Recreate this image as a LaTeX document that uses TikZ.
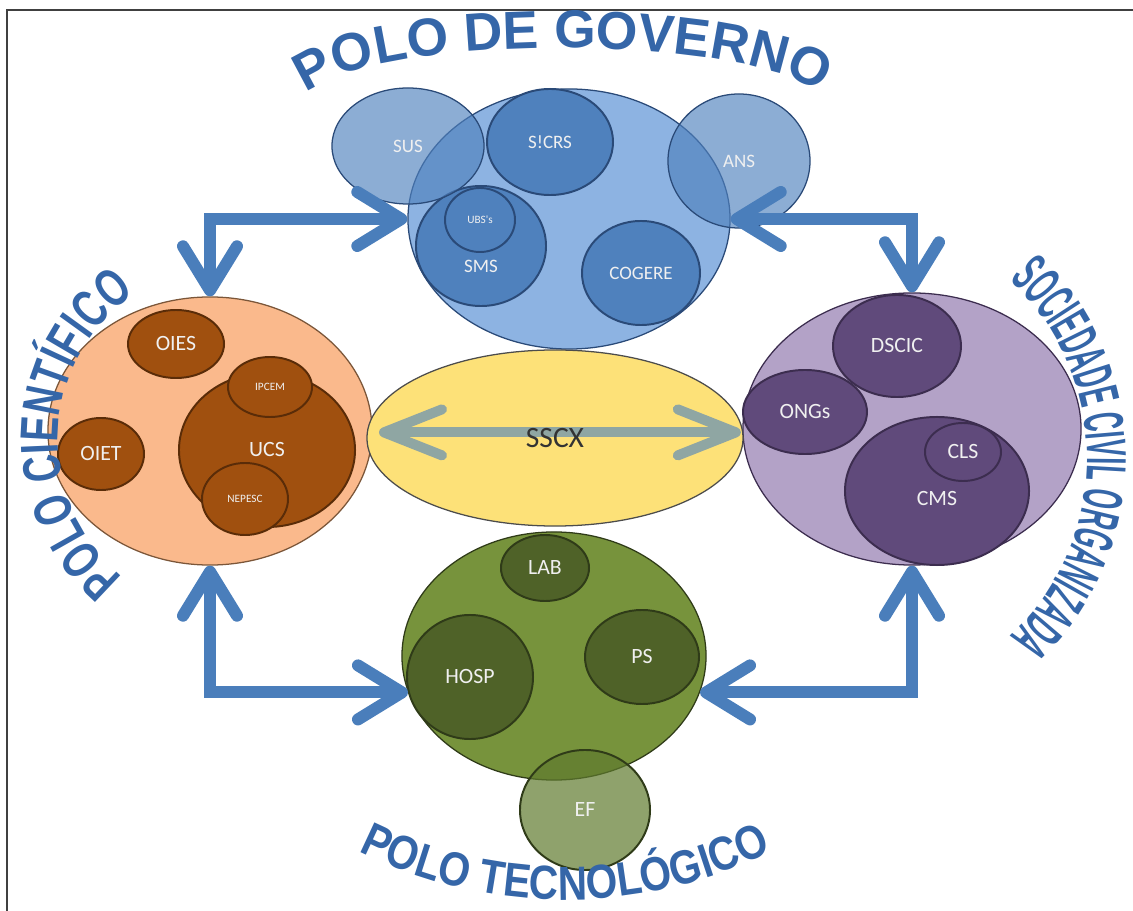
\documentclass[tikz,border=0pt]{standalone}
\usepackage{fontspec}
\usetikzlibrary{shapes.geometric,arrows.meta,decorations.text}
\newfontfamily\unitfont{Carlito}
\newfontfamily\polefont{Liberation Sans}
\newfontfamily\polewide[FakeStretch=0.85]{Liberation Sans}
\newfontfamily\polecond[FakeStretch=0.7]{Liberation Sans}
\newfontfamily\polenarrow[FakeStretch=0.45]{Liberation Sans}

\definecolor{govfill}{HTML}{8DB3E2}
\definecolor{govunit}{HTML}{4F81BD}
\definecolor{govline}{HTML}{2A4A78}
\definecolor{ciefill}{HTML}{FAB98C}
\definecolor{cieunit}{HTML}{A0500F}
\definecolor{cieline}{HTML}{5A2C08}
\definecolor{socfill}{HTML}{B3A2C7}
\definecolor{socunit}{HTML}{604A7B}
\definecolor{socline}{HTML}{3C2D4F}
\definecolor{tecfill}{HTML}{77933C}
\definecolor{tecunit}{HTML}{4F6228}
\definecolor{tecline}{HTML}{2F3B18}
\definecolor{effill}{HTML}{5F7A2E}
\definecolor{sscxfill}{HTML}{FDE178}
\definecolor{linkblue}{HTML}{4A7EBB}
\definecolor{linkgrey}{HTML}{8FA6A3}
\definecolor{titleblue}{HTML}{3566A8}

\tikzset{
  pole/.style={ellipse, draw, line width=0.9pt, inner sep=0pt},
  dims/.style 2 args={minimum width=#1cm, minimum height=#2cm},
  unit/.style={ellipse, draw, line width=1.4pt, inner sep=0pt, text=white!94!black,
    font=\unitfont\fontsize{15.5}{18}\selectfont},
  gtext/.style={text=white!94!black, font=\unitfont\fontsize{13.5}{16}\selectfont},
  gunit/.style={unit, gtext, fill=govunit, draw=govline},
  cunit/.style={unit, fill=cieunit, draw=cieline},
  sunit/.style={unit, fill=socunit, draw=socline},
  tunit/.style={unit, fill=tecunit, draw=tecline},
  tiny tag/.style={font=\unitfont\fontsize{8}{9}\selectfont},
  see through/.style={fill opacity=0.65, text opacity=1},
  link/.style={draw=linkblue, line width=0.3cm,
    >={Straight Barb[round,length=1.1cm,width=1.35cm]}, <->},
  sscxlink/.style={draw=linkgrey, line width=0.25cm,
    >={Straight Barb[round,length=1.45cm,width=1.15cm]}, <->},
  poletitle/.style={decorate, decoration={text along path, text align=center,
    text color=titleblue, text={#1}}}
}

\begin{document}
\begin{tikzpicture}[x=0.025cm, y=-0.025cm]
  \useasboundingbox (0,0) rectangle (1133,911);
  \draw[line width=1.4pt, black!75] (7,911) -- (7,10) -- (1133,10);

  % polo de governo
  \node[pole, fill=govfill, draw=govline, dims={8.05}{6.5}] (gov) at (569,219) {};
  \node[gunit, dims={3.15}{2.65}] (scrs) at (550,142) {S!CRS};
  \node[gunit, dims={3.25}{3.0}, label={[gtext, yshift=-0.5cm]center:SMS}] (sms) at (481,246) {};
  \node[gunit, tiny tag, dims={1.75}{1.6}] (ubs) at (480,220) {UBS's};
  \node[gunit, dims={2.95}{2.6}] (cogere) at (641,273) {COGERE};
  \node[gunit, see through, line width=0.9pt, dims={3.8}{2.9}] (sus) at (408,146) {SUS};
  \node[gunit, see through, line width=0.9pt, dims={3.55}{3.35}] (ans) at (739,161) {ANS};

  % polo cientifico
  \node[pole, fill=ciefill, draw=cieline!80, dims={8.1}{6.7}] (cie) at (210,431) {};
  \node[cunit, dims={2.4}{1.7}] (oies) at (176,344) {OIES};
  \node[cunit, dims={2.15}{1.8}] (oiet) at (101,454) {OIET};
  \node[cunit, dims={4.4}{3.85}] (ucs) at (267,450) {UCS};
  \node[cunit, tiny tag, dims={2.1}{1.5}] (ipcem) at (270,387) {IPCEM};
  \node[cunit, tiny tag, dims={2.15}{1.8}] (nepesc) at (245,499) {NEPESC};

  % sociedade civil
  \node[pole, fill=socfill, draw=socline, dims={8.45}{6.8}] (soc) at (912,429) {};
  \node[sunit, dims={3.2}{2.55}] (dscic) at (897,346) {DSCIC};
  \node[sunit, dims={3.1}{2.1}] (ongs) at (805,412) {ONGs};
  \node[sunit, dims={4.6}{3.7}, label={[text=white!94!black, font=\unitfont\fontsize{15.5}{18}\selectfont, yshift=-0.2cm]center:CMS}] (cms) at (937,491) {};
  \node[sunit, dims={1.9}{1.45}] (cls) at (963,452) {CLS};

  % polo tecnologico
  \node[pole, fill=tecfill, draw=tecline, dims={7.6}{6.2}] (tec) at (554,656) {};
  \node[tunit, dims={2.2}{1.65}] (lab) at (545,568) {LAB};
  \node[tunit, dims={3.15}{3.1}] (hosp) at (470,677) {HOSP};
  \node[tunit, dims={2.85}{2.35}] (ps) at (642,657) {PS};
  \node[tunit, fill=effill, fill opacity=0.7, text opacity=1, dims={3.25}{3.0}] (ef) at (585,810) {EF};

  % centro
  \node[pole, fill=sscxfill, draw=black!70, dims={9.4}{4.4}] (sscx) at (555,438) {};
  \draw[sscxlink, shorten <=9pt, shorten >=2pt] ([yshift=4pt]sscx.west) -- ([yshift=4pt]sscx.east);
  \node[font=\unitfont\fontsize{21}{24}\selectfont, text=black!80] (sscxtext) at (sscx) {SSCX};

  % ligacoes entre os polos
  \draw[link] (gov.west) -| (cie.north);
  \draw[link] (gov.east) -| (soc.north);
  \draw[link] (cie.south) |- (tec.194);
  \draw[link] (soc.south) |- (tec.346);

  % nomes dos polos
  \path[poletitle={|\polefont\bfseries\fontsize{38}{40}\selectfont|POLO DE GOVERNO}]
    ([shift={(176:262 and 58)}]563,106) arc[start angle=176, end angle=364, x radius=262, y radius=58];
  \path[poletitle={|\polecond\bfseries\fontsize{38}{40}\selectfont|POLO CIENTÍFICO}]
    ([shift={(125:177)}]235,440) arc[start angle=125, end angle=240, radius=177];
  \path[poletitle={|\polenarrow\bfseries\fontsize{40}{42}\selectfont|SOCIEDADE CIVIL ORGANIZADA}]
    ([shift={(-48:245)}]842,458) arc[start angle=-48, end angle=48, radius=245];
  \path[poletitle={|\polewide\bfseries\fontsize{34}{36}\selectfont|POLO TECNOLÓGICO}]
    ([shift={(121:462)}]565,438) arc[start angle=121, end angle=59, radius=462];
\end{tikzpicture}
\end{document}
